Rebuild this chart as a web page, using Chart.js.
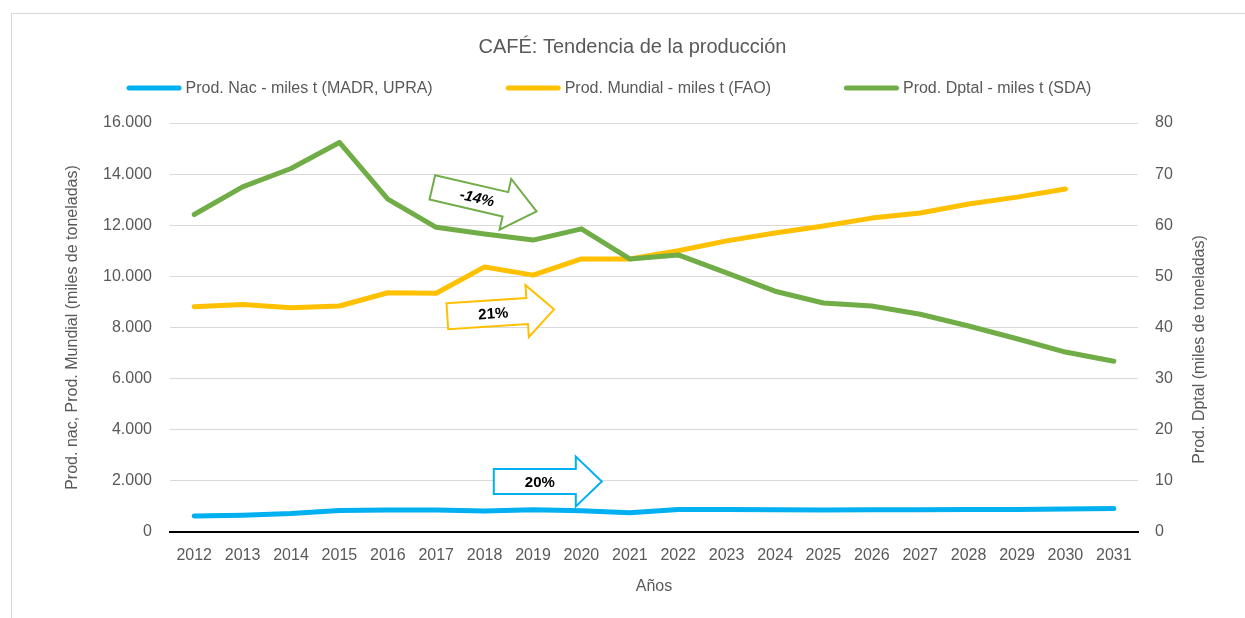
<!DOCTYPE html>
<html lang="es">
<head>
<meta charset="utf-8">
<title>CAFÉ: Tendencia de la producción</title>
<script src="https://cdn.jsdelivr.net/npm/chart.js@4.4.1/dist/chart.umd.min.js"></script>
<style>
  html, body { margin: 0; padding: 0; background: #fff; }
  #marco { position: absolute; left: 0; top: 0; width: 1245px; height: 618px; overflow: hidden; }
  #borde { position: absolute; left: 11px; top: 13px; width: 1300px; height: 700px; border: 1px solid #d9d9d9; }
  canvas { position: absolute; left: 0; top: 0; }
</style>
</head>
<body>
<div id="marco">
  <div id="borde"></div>
  <canvas id="grafico" width="1245" height="618"></canvas>
</div>
<script>
// Series (miles de toneladas)
const anios = ['2012', '2013', '2014', '2015', '2016', '2017', '2018', '2019', '2020', '2021',
               '2022', '2023', '2024', '2025', '2026', '2027', '2028', '2029', '2030', '2031'];
const prodNac = [626, 660, 720, 840, 860, 860, 820, 870, 830, 750,
                 880, 880, 870, 860, 870, 870, 880, 880, 900, 920];
const prodMundial = [8815, 8900, 8775, 8840, 9360, 9340, 10370, 10050, 10680, 10680,
                     11000, 11390, 11700, 11970, 12280, 12480, 12830, 13100, 13420, null];
const prodDptal = [62.1, 67.5, 71.1, 76.2, 65.1, 59.6, 58.3, 57.1, 59.3, 53.4,
                   54.2, 50.7, 47.1, 44.8, 44.2, 42.6, 40.3, 37.8, 35.2, 33.4];

// Variaciones marcadas con flechas
const variaciones = ['-14%', '21%', '20%'];

const gris = '#595959';
const fuente = '"Liberation Sans", Arial, sans-serif';

// Flechas: anclaje (índice de año, valor eje izquierdo) y forma
const flechas = [
  { texto: variaciones[0], x: 4.92, y: 13480, angulo: 13, color: '#70AD47', italica: true, largo: 107, cuerpo: 25, cabeza: 52, punta: 32 },
  { texto: variaciones[1], x: 5.23, y: 8440, angulo: -3.7, color: '#FFC000', italica: false, largo: 107, cuerpo: 26, cabeza: 52, punta: 27 },
  { texto: variaciones[2], x: 6.19, y: 1976, angulo: 0, color: '#00B0F0', italica: false, largo: 108, cuerpo: 25, cabeza: 50, punta: 26 }
];

function miles(v) {
  return String(v).replace(/\B(?=(\d{3})+(?!\d))/g, '.');
}

const extras = {
  id: 'extras',
  afterDatasetsDraw(chart) {
    const ctx = chart.ctx;
    const sx = chart.scales.x, sy = chart.scales.y;
    flechas.forEach(f => {
      const px = sx.getPixelForValue(f.x);
      const py = sy.getPixelForValue(f.y);
      const b = f.cuerpo / 2, h = f.cabeza / 2, L = f.largo, p = f.punta;
      ctx.save();
      ctx.translate(px, py);
      ctx.rotate(f.angulo * Math.PI / 180);
      ctx.beginPath();
      ctx.moveTo(0, -b);
      ctx.lineTo(L - p, -b);
      ctx.lineTo(L - p, -h);
      ctx.lineTo(L, 0);
      ctx.lineTo(L - p, h);
      ctx.lineTo(L - p, b);
      ctx.lineTo(0, b);
      ctx.closePath();
      ctx.fillStyle = '#fff';
      ctx.fill();
      ctx.lineWidth = 2;
      ctx.lineJoin = 'miter';
      ctx.strokeStyle = f.color;
      ctx.stroke();
      ctx.fillStyle = '#000';
      ctx.font = (f.italica ? 'italic ' : '') + 'bold 15px ' + fuente;
      ctx.textAlign = 'center';
      ctx.textBaseline = 'middle';
      ctx.fillText(f.texto, 46, 1);
      ctx.restore();
    });
  },
  afterDraw(chart) {
    const ctx = chart.ctx;
    // Leyenda
    ctx.save();
    ctx.font = '16px ' + fuente;
    const linea = 55, sep = 4, hueco = 73;
    const items = chart.data.datasets.map(d => ({ texto: d.label, color: d.borderColor, w: ctx.measureText(d.label).width }));
    const total = items.reduce((s, it) => s + linea + sep + it.w, 0) + hueco * (items.length - 1);
    let x = 609 - total / 2;
    const y = 88;
    items.forEach(it => {
      ctx.beginPath();
      ctx.moveTo(x + 2.5, y);
      ctx.lineTo(x + linea - 2.5, y);
      ctx.lineWidth = 5;
      ctx.lineCap = 'round';
      ctx.strokeStyle = it.color;
      ctx.stroke();
      ctx.fillStyle = gris;
      ctx.textAlign = 'left';
      ctx.textBaseline = 'middle';
      ctx.fillText(it.texto, x + linea + sep, y + 1);
      x += linea + sep + it.w + hueco;
    });
    ctx.restore();

    // Título del eje secundario
    const area = chart.chartArea;
    ctx.save();
    ctx.translate(1200, (area.top + area.bottom) / 2 + 22);
    ctx.rotate(-Math.PI / 2);
    ctx.font = '16px ' + fuente;
    ctx.fillStyle = gris;
    ctx.textAlign = 'center';
    ctx.textBaseline = 'middle';
    ctx.fillText('Prod. Dptal (miles de toneladas)', 0, 0);
    ctx.restore();
  }
};

Chart.defaults.font.family = fuente;
Chart.defaults.color = gris;

new Chart(document.getElementById('grafico'), {
  type: 'line',
  data: {
    labels: anios,
    datasets: [
      { label: 'Prod. Nac - miles t (MADR, UPRA)', data: prodNac, borderColor: '#00B0F0', yAxisID: 'y', order: 3 },
      { label: 'Prod. Mundial - miles t (FAO)', data: prodMundial, borderColor: '#FFC000', yAxisID: 'y', order: 2 },
      { label: 'Prod. Dptal - miles t (SDA)', data: prodDptal, borderColor: '#70AD47', yAxisID: 'y1', order: 1 }
    ]
  },
  options: {
    responsive: false,
    animation: false,
    layout: { padding: { left: 20, right: 0, top: 0, bottom: 0 } },
    elements: {
      line: { borderWidth: 5, tension: 0, borderCapStyle: 'round', borderJoinStyle: 'round', fill: false },
      point: { radius: 0, hoverRadius: 0 }
    },
    plugins: {
      legend: { display: false },
      tooltip: { enabled: false },
      title: {
        display: true,
        text: 'CAFÉ: Tendencia de la producción',
        color: gris,
        font: { size: 20, weight: 'normal' },
        padding: { top: 35, bottom: 64 }
      }
    },
    scales: {
      x: {
        offset: true,
        grid: { display: false, drawTicks: false },
        border: { display: true, color: '#000', width: 2 },
        ticks: { font: { size: 16 }, padding: 14, maxRotation: 0, autoSkip: false },
        title: { display: true, text: 'Años', font: { size: 16 }, padding: { top: 0, bottom: 21.4 } },
        afterFit(s) { s.height = 86; }
      },
      y: {
        position: 'left',
        min: 0, max: 16000,
        ticks: { stepSize: 2000, font: { size: 16 }, padding: 18, callback: v => miles(v) },
        grid: { color: '#d9d9d9', lineWidth: 1, drawTicks: false },
        border: { display: false },
        title: { display: true, text: 'Prod. nac, Prod. Mundial (miles de toneladas)', font: { size: 16 }, padding: { top: 43, bottom: 0 } },
        afterFit(s) { s.width = 150; }
      },
      y1: {
        position: 'right',
        min: 0, max: 80,
        ticks: { stepSize: 10, font: { size: 16 }, padding: 17 },
        grid: { display: false, drawTicks: false },
        border: { display: false },
        afterFit(s) { s.width = 107; }
      }
    }
  },
  plugins: [extras]
});
</script>
</body>
</html>
